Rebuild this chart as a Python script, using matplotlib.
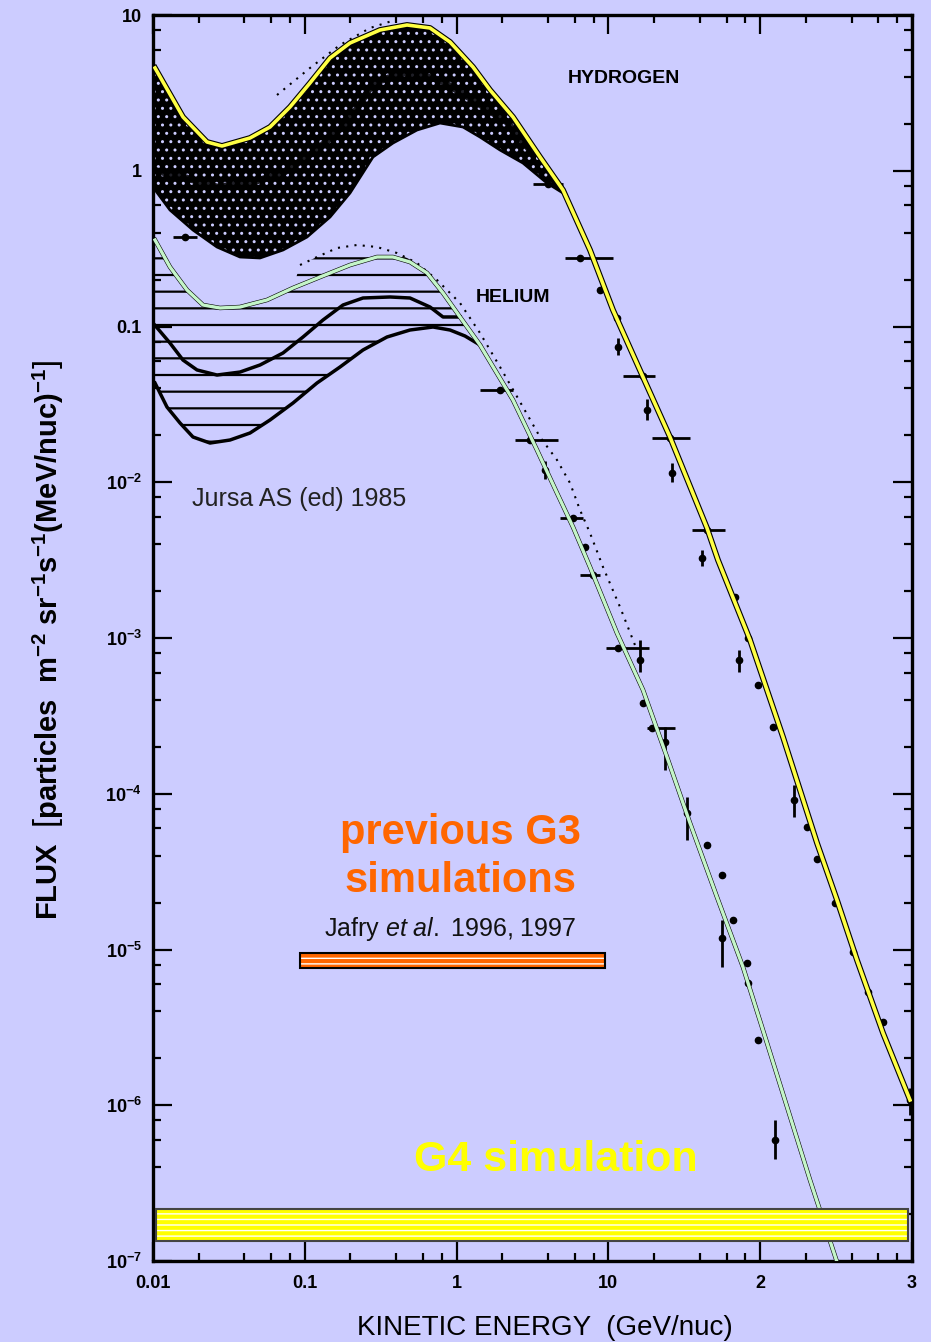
import numpy as np
import matplotlib.pyplot as plt
from matplotlib.patches import Rectangle
from matplotlib.ticker import LogLocator, NullFormatter

plt.rcParams['font.family'] = ['Liberation Sans', 'DejaVu Sans']
plt.rcParams['mathtext.fontset'] = 'custom'
plt.rcParams['mathtext.rm'] = 'Liberation Sans'
plt.rcParams['mathtext.it'] = 'Liberation Sans:italic'
plt.rcParams['mathtext.bf'] = 'Liberation Sans:bold'

BG = '#ccccff'

# hydrogen spectrum, upper (solar minimum) curve -- GeV/nuc, flux
h_E = [0.01031, 0.01576, 0.02268, 0.02848, 0.04355, 0.05898, 0.0799, 0.1082,
       0.1466, 0.1985, 0.3128, 0.4714, 0.668, 0.9048, 1.282, 1.660, 2.352,
       3.543, 5.022, 7.565, 10.72, 16.90, 25.45, 44.6, 52.7, 85.7, 141.3,
       236.7, 320.5, 434.1, 644.2, 970.0]
h_F = [4.57, 2.214, 1.530, 1.442, 1.623, 1.909, 2.566, 3.660, 5.296, 6.610,
       8.011, 8.627, 8.252, 6.708, 4.636, 3.300, 2.214, 1.226, 0.752, 0.310,
       0.1276, 0.0474, 0.01952, 5.086e-3, 3.168e-3, 9.71e-4, 2.314e-4,
       4.83e-5, 2.078e-5, 8.56e-6, 2.91e-6, 1.081e-6]

# hydrogen band, lower edge (solar maximum)
h_low_E = [0.01, 0.01294, 0.01834, 0.02640, 0.03742, 0.05068, 0.07186, 0.1034,
           0.1466, 0.1985, 0.2813, 0.3811, 0.5484, 0.7772, 1.102, 1.426, 1.932,
           2.737, 3.940, 5.022]
h_low_F = [0.786, 0.5598, 0.4164, 0.3239, 0.2794, 0.2754, 0.3099, 0.3755,
           0.5047, 0.7199, 1.226, 1.507, 1.826, 2.025, 1.909, 1.647, 1.359,
           1.121, 0.834, 0.720]

# hydrogen band, darker middle trace
h_mid_E = [0.01, 0.01576, 0.0264, 0.04355, 0.07186, 0.1203, 0.1985, 0.2813,
           0.4714, 0.7772, 1.282, 2.148, 3.045]
h_mid_F = [1.011, 0.912, 0.786, 0.834, 0.967, 1.359, 2.118, 3.660, 4.306,
           3.826, 2.847, 2.056, 1.359]

# hydrogen dotted envelope
h_dot_E = [0.0656, 0.1082, 0.1706, 0.2688, 0.3928]
h_dot_F = [3.064, 4.57, 6.42, 8.25, 9.29]

# helium spectrum (green overlay)
he_E = [0.01031, 0.01294, 0.01675, 0.02136, 0.02763, 0.03742, 0.05636,
        0.08364, 0.1259, 0.1985, 0.2989, 0.3811, 0.4932, 0.6383, 0.8137,
        1.053, 1.426, 2.352, 3.385, 4.585, 5.845, 7.565, 11.39, 16.90, 24.32,
        34.47, 51.93, 77.0, 110.9, 212.9, 320.5]
he_F = [0.3592, 0.2410, 0.1715, 0.1374, 0.1315, 0.1334, 0.1480, 0.1767,
        0.2078, 0.2482, 0.2794, 0.2794, 0.2595, 0.2206, 0.1641, 0.1151,
        0.0761, 0.03373, 0.01611, 8.53e-3, 5.16e-3, 2.857e-3, 1.076e-3,
        4.64e-4, 1.72e-4, 6.49e-5, 2.17e-5, 7.72e-6, 2.51e-6, 3.31e-7, 9.85e-8]

# helium band, lower curve
he_low_E = [0.01031, 0.01236, 0.01506, 0.01834, 0.02374, 0.03215, 0.04355,
            0.05898, 0.08364, 0.1203, 0.1706, 0.2417, 0.3479, 0.4932, 0.6991,
            0.9048, 1.136, 1.426]
he_low_F = [0.04337, 0.03041, 0.02402, 0.01952, 0.01786, 0.01867, 0.02071,
            0.02510, 0.03228, 0.04337, 0.05495, 0.07066, 0.08562, 0.09495,
            0.09926, 0.09495, 0.0869, 0.0761]

# helium band, middle curve
he_mid_E = [0.01, 0.01294, 0.01576, 0.0195, 0.0264, 0.03742, 0.05068, 0.07186,
            0.0973, 0.1318, 0.1785, 0.2417, 0.3641, 0.4932, 0.668, 0.8137,
            1.053]
he_mid_F = [0.1053, 0.0783, 0.0609, 0.0526, 0.0488, 0.0510, 0.0566, 0.0676,
            0.0856, 0.1101, 0.1374, 0.1524, 0.1547, 0.1524, 0.1334, 0.1151,
            0.1151]

# helium dotted envelope
he_dot_E = [0.0930, 0.1203, 0.1630, 0.2207, 0.2989, 0.4048, 0.5484, 0.7427,
            1.053, 1.426, 1.932, 2.737, 3.543, 4.585, 5.585, 6.501, 7.565,
            9.214, 11.93, 14.97]
he_dot_F = [0.2482, 0.2794, 0.3192, 0.3337, 0.3239, 0.2963, 0.2557, 0.1989,
            0.1416, 0.0908, 0.0550, 0.0304, 0.01952, 0.01390, 9.89e-3,
            6.63e-3, 4.72e-3, 2.857e-3, 1.58e-3, 9.0e-4]

# hydrogen measurements: E, flux, E range, flux range
hp_E = [0.01625, 4.0, 6.5, 8.8, 11.4, 11.6, 16.9, 17.9, 25.5, 26.3, 44.6,
        41.4, 68, 83, 72, 96.6, 121, 167, 203, 237, 311, 408, 513, 644, 970]
hp_F = [0.3755, 0.82, 0.275, 0.1715, 0.1134, 0.0739, 0.0481, 0.0291, 0.01923,
        0.01147, 4.94e-3, 3.26e-3, 1.83e-3, 1.0e-3, 7.2e-4, 5.0e-4, 2.7e-4,
        9.1e-5, 6.1e-5, 3.8e-5, 2.0e-5, 9.6e-6, 5.3e-6, 3.4e-6, 1.08e-6]
hp_Elo = [0.01354, 3.18, 5.18, 8.8, 11.4, 11.6, 12.5, 17.9, 19.4, 26.3, 35.5,
          41.4, 68, 83, 72, 96.6, 121, 167, 203, 237, 311, 408, 513, 644, 970]
hp_Ehi = [0.0195, 5.02, 10.7, 8.8, 11.4, 11.6, 20.3, 17.9, 34.5, 26.3, 58.6,
          41.4, 68, 83, 72, 96.6, 121, 167, 203, 237, 311, 408, 513, 644, 970]
hp_Flo = [0.3755, 0.82, 0.275, 0.1715, 0.1134, 0.0656, 0.0481, 0.0250, 0.01923,
          0.0100, 4.94e-3, 2.9e-3, 1.83e-3, 1.0e-3, 6.05e-4, 5.0e-4, 2.7e-4,
          7.1e-5, 6.1e-5, 3.8e-5, 2.0e-5, 9.6e-6, 5.3e-6, 3.4e-6, 8.6e-7]
hp_Fhi = [0.3755, 0.82, 0.275, 0.1715, 0.1134, 0.0843, 0.0481, 0.0340, 0.01923,
          0.0132, 4.94e-3, 3.7e-3, 1.83e-3, 1.0e-3, 8.4e-4, 5.0e-4, 2.7e-4,
          1.14e-4, 6.1e-5, 3.8e-5, 2.0e-5, 9.6e-6, 5.3e-6, 3.4e-6, 1.3e-6]

# helium measurements
hep_E = [1.93, 3.045, 3.82, 5.85, 7.01, 7.92, 11.57, 16.15, 16.9, 19.4, 23.6,
         32.9, 44.6, 56.0, 66.2, 56.0, 81.8, 83.4, 96.7, 125]
hep_F = [0.0391, 0.01867, 0.01199, 5.89e-3, 3.84e-3, 2.54e-3, 8.63e-4, 7.22e-4,
         3.83e-4, 2.64e-4, 2.15e-4, 7.52e-5, 4.69e-5, 3.01e-5, 1.55e-5,
         1.19e-5, 8.19e-6, 6.1e-6, 2.62e-6, 5.98e-7]
hep_Elo = [1.426, 2.42, 3.82, 4.80, 7.01, 6.50, 9.64, 16.15, 16.9, 17.96, 23.6,
           32.9, 44.6, 56.0, 66.2, 56.0, 81.8, 83.4, 96.7, 125]
hep_Ehi = [2.352, 4.66, 3.82, 6.80, 7.01, 8.80, 18.5, 16.15, 16.9, 27.5, 23.6,
           32.9, 44.6, 56.0, 66.2, 56.0, 81.8, 83.4, 96.7, 125]
hep_Flo = [0.0391, 0.01867, 0.0105, 5.89e-3, 3.84e-3, 2.54e-3, 8.63e-4,
           6.05e-4, 3.83e-4, 2.64e-4, 1.42e-4, 5.05e-5, 4.69e-5, 3.01e-5,
           1.55e-5, 7.72e-6, 8.19e-6, 6.1e-6, 2.62e-6, 4.5e-7]
hep_Fhi = [0.0391, 0.01867, 0.0137, 5.89e-3, 3.84e-3, 2.54e-3, 8.63e-4,
           9.71e-4, 3.83e-4, 2.64e-4, 2.68e-4, 9.53e-5, 4.69e-5, 3.01e-5,
           1.55e-5, 1.55e-5, 8.19e-6, 6.1e-6, 2.62e-6, 8.0e-7]

# simulation ranges
g3_E = [0.093, 9.5]
g3_F = [7.6e-6, 9.5e-6]
g4_E = [0.0105, 940]
g4_F = [1.34e-7, 2.16e-7]

x_ticks = [0.01, 0.1, 1, 10, 100, 1000]
x_labels = ['0.01', '0.1', '1', '10', '2', '3']
y_ticks = [1e-7, 1e-6, 1e-5, 1e-4, 1e-3, 1e-2, 0.1, 1, 10]
y_labels = [r'$\mathbf{10^{-7}}$', r'$\mathbf{10^{-6}}$', r'$\mathbf{10^{-5}}$',
            r'$\mathbf{10^{-4}}$', r'$\mathbf{10^{-3}}$', r'$\mathbf{10^{-2}}$',
            '0.1', '1', '10']


def hatch_lw(p, w):
    if hasattr(p, 'set_hatch_linewidth'):
        p.set_hatch_linewidth(w)


fig = plt.figure(figsize=(9.31, 13.42), dpi=100, facecolor=BG)
ax = fig.add_axes([153 / 931, 1 - 1261 / 1342, 759 / 931, 1246 / 1342])
ax.set_facecolor(BG)
ax.set_xscale('log')
ax.set_yscale('log')
ax.set_xlim(0.01, 1000)
ax.set_ylim(1e-7, 10)

# hydrogen stippled band
hE = np.array(h_E)
hF = np.array(h_F)
up = hE <= 5.03
poly_x = np.concatenate([hE[up], np.array(h_low_E)[::-1]])
poly_y = np.concatenate([hF[up], np.array(h_low_F)[::-1]])
band_h = ax.fill(poly_x, poly_y, facecolor='black', edgecolor=BG, hatch='..',
                 lw=0, zorder=2)[0]
hatch_lw(band_h, 1.0)
ax.plot(h_low_E, h_low_F, color='black', lw=2, zorder=3)
ax.plot(h_mid_E, h_mid_F, color='black', lw=5, alpha=0.85, zorder=3)
ax.plot(h_dot_E, h_dot_F, color='black', lw=1.5, ls=(0, (1, 3)), zorder=3)

# helium hatched band
heE = np.array(he_E)
heF = np.array(he_F)
dE = np.array(he_dot_E)
dF = np.array(he_dot_F)
left = heE < 0.09
mid = dE < 0.75
right = (heE > 0.8) & (heE <= 1.43)
px = np.concatenate([heE[left], dE[mid], heE[right], np.array(he_low_E)[::-1]])
py = np.concatenate([heF[left], dF[mid], heF[right], np.array(he_low_F)[::-1]])
band_he = ax.fill(px, py, facecolor='none', edgecolor='black', hatch='-',
                  lw=0, zorder=2)[0]
hatch_lw(band_he, 1.6)
ax.plot(he_low_E, he_low_F, color='black', lw=2.5, zorder=3)
ax.plot(he_mid_E, he_mid_F, color='black', lw=2.5, zorder=3)
ax.plot(he_dot_E, he_dot_F, color='black', lw=1.5, ls=(0, (1, 3)), zorder=3)

# measurements
for E, F, Elo, Ehi, Flo, Fhi in [(hp_E, hp_F, hp_Elo, hp_Ehi, hp_Flo, hp_Fhi),
                                 (hep_E, hep_F, hep_Elo, hep_Ehi, hep_Flo, hep_Fhi)]:
    E = np.array(E)
    F = np.array(F)
    xerr = [E - np.array(Elo), np.array(Ehi) - E]
    yerr = [F - np.array(Flo), np.array(Fhi) - F]
    ax.errorbar(E, F, xerr=xerr, yerr=yerr, fmt='o', color='black', ms=4.5,
                elinewidth=2, capsize=0, zorder=4)

# black fitted curves with coloured overlays
ax.plot(h_E, h_F, color='black', lw=4.2, zorder=5)
ax.plot(h_E, h_F, color='#ffff44', lw=2.6, zorder=6)
ax.plot(he_E, he_F, color='black', lw=3.2, zorder=5)
ax.plot(he_E, he_F, color='#c4f5c8', lw=2.4, zorder=6)

# simulation bars
g3_fill = Rectangle((g3_E[0], g3_F[0]), g3_E[1] - g3_E[0], g3_F[1] - g3_F[0],
                    facecolor='#ff6600', edgecolor='white', hatch='---', lw=0,
                    zorder=7)
hatch_lw(g3_fill, 1.0)
ax.add_patch(g3_fill)
ax.add_patch(Rectangle((g3_E[0], g3_F[0]), g3_E[1] - g3_E[0], g3_F[1] - g3_F[0],
                       facecolor='none', edgecolor='black', lw=1.5, zorder=8))
g4_fill = Rectangle((g4_E[0], g4_F[0]), g4_E[1] - g4_E[0], g4_F[1] - g4_F[0],
                    facecolor='#ffff00', edgecolor='white', hatch='---', lw=0,
                    zorder=7)
hatch_lw(g4_fill, 1.0)
ax.add_patch(g4_fill)
ax.add_patch(Rectangle((g4_E[0], g4_F[0]), g4_E[1] - g4_E[0], g4_F[1] - g4_F[0],
                       facecolor='none', edgecolor='#444444', lw=1.5, zorder=8))

# labels inside the plot
ax.text(0.621, 0.949, 'HYDROGEN', transform=ax.transAxes, fontsize=14,
        fontweight='bold', ha='center', va='center')
ax.text(0.474, 0.773, 'HELIUM', transform=ax.transAxes, fontsize=14,
        fontweight='bold', ha='center', va='center')
ax.text(0.0514, 0.6116, 'Jursa AS (ed) 1985', transform=ax.transAxes,
        fontsize=18, color='#222222', ha='left', va='center')
ax.text(0.4045, 0.3435, 'previous G3', transform=ax.transAxes, fontsize=30,
        fontweight='bold', color='#ff6600', ha='center', va='center')
ax.text(0.4045, 0.305, 'simulations', transform=ax.transAxes, fontsize=30,
        fontweight='bold', color='#ff6600', ha='center', va='center')
ax.text(0.3913, 0.2665, r'Jafry $\mathit{et\ al.}$ 1996, 1997',
        transform=ax.transAxes, fontsize=18, color='#111111', ha='center',
        va='center')
ax.text(0.531, 0.081, 'G4 simulation', transform=ax.transAxes, fontsize=31,
        fontweight='bold', color='#ffff00', ha='center', va='center')

# axes styling
ax.set_xticks(x_ticks)
ax.set_xticklabels(x_labels)
ax.set_yticks(y_ticks)
ax.set_yticklabels(y_labels)
ax.xaxis.set_minor_locator(LogLocator(base=10, subs=(2, 4, 6, 8)))
ax.yaxis.set_minor_locator(LogLocator(base=10, subs=(2, 4, 6, 8)))
ax.xaxis.set_minor_formatter(NullFormatter())
ax.yaxis.set_minor_formatter(NullFormatter())
ax.tick_params(which='both', direction='in', top=True, right=True, width=1.6)
ax.tick_params(which='major', length=14)
ax.tick_params(which='minor', length=6)
ax.tick_params(axis='x', pad=10, labelsize=13)
ax.tick_params(axis='y', pad=8, labelsize=13)
for lab in ax.get_xticklabels() + ax.get_yticklabels():
    lab.set_fontweight('bold')
for sp in ax.spines.values():
    sp.set_linewidth(2.4)

fig.text(48 / 931, 1 - 640 / 1342,
         r'FLUX  $\mathbf{\left[particles\ \ m^{-2}\ sr^{-1} s^{-1} (MeV/nuc)^{-1}\right]}$',
         rotation=90, ha='center', va='center', fontsize=21, fontweight='bold')
fig.text(545 / 931, 1 - 1328 / 1342, 'KINETIC ENERGY  (GeV/nuc)',
         ha='center', va='center', fontsize=20)

fig.savefig('out.png', dpi=100, facecolor=BG)
